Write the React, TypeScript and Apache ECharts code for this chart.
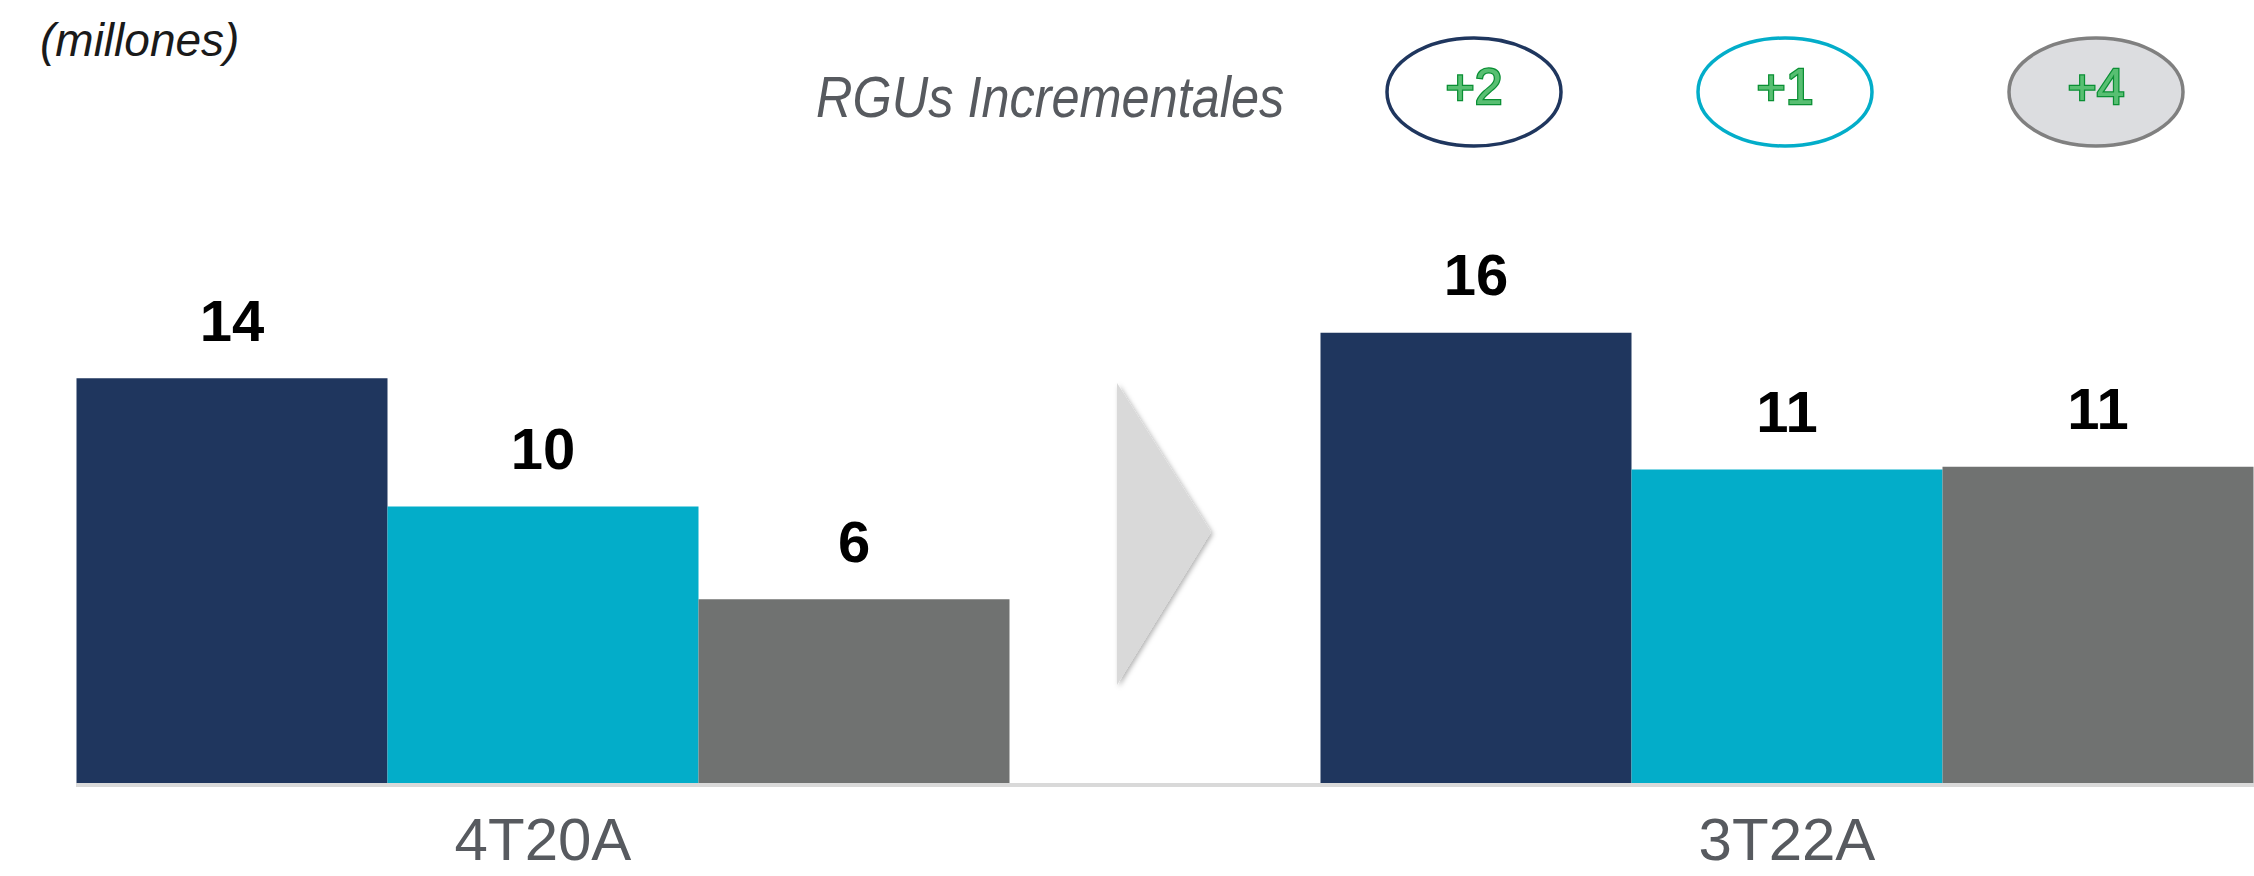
import React, { useEffect, useRef } from "react";
import * as echarts from "echarts";

const categories = ["4T20A", "3T22A"];
const serieA = [14.2, 15.8];
const serieB = [9.7, 11.0];
const serieC = [6.45, 11.1];
const incrementales = ["+2", "+1", "+4"];

const NAVY = "#1F365E";
const CYAN = "#03ADC9";
const GRAY = "#707271";
const FONT = "Liberation Sans, Arial, sans-serif";

export default function App() {
  const ref = useRef<HTMLDivElement>(null);
  useEffect(() => {
    if (!ref.current) return;
    const chart = echarts.init(ref.current, undefined, { renderer: "svg" });
    const label = {
      show: true,
      position: "top",
      distance: 29,
      fontSize: 58,
      fontWeight: "bold",
      color: "#000",
      fontFamily: FONT,
      formatter: (p: any) => String(Math.round(p.value)),
    };
    const mk = (name: string, data: number[], color: string) => ({
      type: "bar",
      name,
      data,
      barWidth: 311,
      barGap: "0%",
      itemStyle: { color },
      label,
      silent: true,
    });
    const ellipseX = [1474, 1785, 2096];
    const ellipseStroke = [NAVY, CYAN, "#808080"];
    const ellipseFill = ["#ffffff", "#ffffff", "#dcdde0"];
    const graphics: any[] = [
      {
        type: "text",
        x: 40,
        y: 40,
        style: {
          text: "(millones)",
          fontSize: 46,
          fontStyle: "italic",
          fontFamily: FONT,
          fill: "#1a1a1a",
          textVerticalAlign: "middle",
          textAlign: "left",
        },
      },
      {
        type: "text",
        x: 816,
        y: 97,
        scaleX: 0.87,
        style: {
          text: "RGUs Incrementales",
          fontSize: 58,
          fontStyle: "italic",
          fontFamily: FONT,
          fill: "#575A5F",
          textVerticalAlign: "middle",
          textAlign: "left",
        },
      },
      {
        type: "polygon",
        shape: { points: [[1117, 383], [1211, 532], [1117, 685]] },
        style: {
          fill: "#d9d9d9",
          shadowBlur: 5,
          shadowOffsetX: 2,
          shadowOffsetY: 2,
          shadowColor: "rgba(0,0,0,0.3)",
        },
      },
      {
        type: "rect",
        shape: { x: 76, y: 783, width: 2178, height: 4 },
        style: { fill: "#d9d9d9" },
      },
    ];
    incrementales.forEach((t, i) => {
      graphics.push({
        type: "ellipse",
        shape: { cx: ellipseX[i], cy: 92, rx: 87, ry: 54 },
        style: { fill: ellipseFill[i], stroke: ellipseStroke[i], lineWidth: 3.5 },
      });
      graphics.push({
        type: "text",
        x: ellipseX[i],
        y: 87,
        style: {
          text: t,
          fontSize: 50,
          fontFamily: FONT,
          fill: "#58bf72",
          stroke: "#0a8f34",
          lineWidth: 2.5,
          textAlign: "center",
          textVerticalAlign: "middle",
        },
      });
    });
    chart.setOption({
      animation: false,
      backgroundColor: "#ffffff",
      grid: { left: -79, right: -155, top: 213, bottom: 93, outerBoundsMode: "none" },
      xAxis: {
        type: "category",
        data: categories,
        axisLine: { show: false },
        axisTick: { show: false },
        axisLabel: {
          margin: 26,
          fontSize: 60,
          lineHeight: 60,
          color: "#575A5F",
          fontFamily: FONT,
        },
      },
      yAxis: { type: "value", min: 0, max: 20, show: false, splitLine: { show: false } },
      series: [mk("Serie 1", serieA, NAVY), mk("Serie 2", serieB, CYAN), mk("Serie 3", serieC, GRAY)],
      graphic: graphics,
    });
    return () => chart.dispose();
  }, []);
  return (
    <div
      ref={ref}
      style={{ position: "absolute", left: 0, top: 0, width: 2254, height: 876 }}
    />
  );
}
